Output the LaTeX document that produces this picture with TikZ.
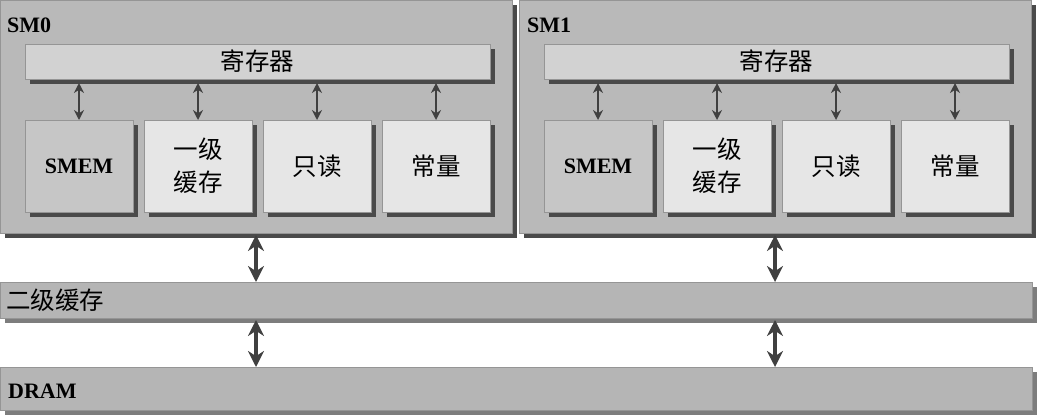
\documentclass[tikz,border=0pt]{standalone}
\usepackage{fontspec}
\setmainfont{Liberation Serif}
\newfontfamily\cjk{Noto Sans CJK SC}
\usetikzlibrary{arrows.meta,shadows}
\definecolor{smbg}{HTML}{B9B9B9}
\definecolor{regbg}{HTML}{D2D2D2}
\definecolor{smembg}{HTML}{C6C6C6}
\definecolor{cellbg}{HTML}{E6E6E6}
\definecolor{busbg}{HTML}{B5B5B5}
\definecolor{darksh}{HTML}{4A4A4A}
\definecolor{lightsh}{HTML}{7D7D7D}
\definecolor{edge}{HTML}{959595}
\definecolor{arr}{HTML}{404040}
\begin{document}
\begin{tikzpicture}[x=1pt,y=-1pt,
  base/.style={draw=edge, line width=0.8pt, anchor=north west, inner sep=0pt, outer sep=0pt},
  dshadow/.style={drop shadow={shadow xshift=5pt, shadow yshift=-5pt, fill=darksh, opacity=1}},
  lshadow/.style={drop shadow={shadow xshift=5pt, shadow yshift=-5pt, fill=lightsh, opacity=1}},
  smbox/.style={base, dshadow, fill=smbg, minimum width=512pt, minimum height=233pt},
  regbox/.style={base, dshadow, fill=regbg, minimum width=465pt, minimum height=35pt, font=\cjk\fontsize{24.5}{28}\selectfont},
  cell/.style={base, dshadow, fill=cellbg, minimum width=108pt, minimum height=92pt, align=center, font=\cjk\fontsize{24.5}{33}\selectfont},
  smemcell/.style={cell, fill=smembg, font=\bfseries\fontsize{22}{25}\selectfont},
  bus/.style={base, lshadow, fill=busbg, minimum width=1032pt},
  lbl/.style={inner sep=0pt, font=\bfseries\fontsize{22}{25}\selectfont},
  sarrow/.style={draw=arr, line width=1.9pt, {Stealth[length=10pt,width=10pt]}-{Stealth[length=10pt,width=10pt]}},
  barrow/.style={draw=arr, line width=4pt, {Stealth[length=16pt,width=16pt]}-{Stealth[length=16pt,width=16pt]}}
]
\useasboundingbox[fill=white] (0,0) rectangle (1038,416);

% SM0
\node[smbox] (sm0) at (0,0) {};
\node[lbl, anchor=base west] (sm0t) at (7,32) {SM0};
\node[regbox] (reg0) at (25,44) {寄存器};
\node[smemcell] (smem0) at (25,120) {SMEM};
\node[cell] (l10) at (144,120) {一级\\缓存};
\node[cell] (ro0) at (263,120) {只读};
\node[cell] (co0) at (382,120) {常量};

% SM1
\node[smbox] (sm1) at (519,0) {};
\node[lbl, anchor=base west] (sm1t) at (527,32) {SM1};
\node[regbox] (reg1) at (544,44) {寄存器};
\node[smemcell] (smem1) at (544,120) {SMEM};
\node[cell] (l11) at (663,120) {一级\\缓存};
\node[cell] (ro1) at (782,120) {只读};
\node[cell] (co1) at (901,120) {常量};

% buses
\node[bus, minimum height=36pt] (l2) at (0,282) {};
\node[anchor=west, inner sep=0pt, font=\cjk\fontsize{24.5}{28}\selectfont] (l2t) at (6,300) {二级缓存};
\node[bus, minimum height=43pt] (dram) at (0,367) {};
\node[lbl, anchor=base west] (dramt) at (8,398) {DRAM};

% small arrows
\foreach \c/\r in {smem0/reg0, l10/reg0, ro0/reg0, co0/reg0, smem1/reg1, l11/reg1, ro1/reg1, co1/reg1}{
  \draw[sarrow, shorten >=4pt] (\c.north) -- (\c.north |- \r.south);
}

% big arrows
\foreach \s in {sm0, sm1}{
  \draw[barrow, shorten <=2pt] (\s.south) -- (\s.south |- l2.north);
  \draw[barrow, shorten <=2pt] (\s.south |- l2.south) -- (\s.south |- dram.north);
}
\end{tikzpicture}
\end{document}
